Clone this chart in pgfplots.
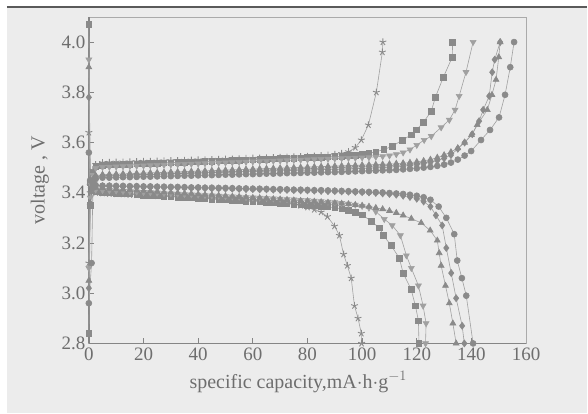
\documentclass[border=0pt]{standalone}
\usepackage{fontspec}
\setmainfont{Liberation Serif}
\usepackage{pgfplots}
\pgfplotsset{compat=1.18}
\definecolor{bgc}{HTML}{ECECEC}
\definecolor{dline}{HTML}{5A5A5A}
\definecolor{mk}{HTML}{8A8A8A}
\definecolor{ln}{HTML}{A0A0A0}
\definecolor{txt}{HTML}{6E6E6E}
\definecolor{ax}{HTML}{858585}
\pgfplotsset{
 ser/.style={color=ln, line width=0.6pt, mark options={draw=mk, fill=mk, solid}},
 sstar/.style={ser, mark=star, mark size=3.6pt, mark options={draw=mk, fill=mk, line width=0.9pt}},
 ssq/.style={ser, mark=square*, mark size=2.8pt},
 sdt/.style={ser, mark=triangle*, mark size=3.4pt, mark options={rotate=180}},
 sut/.style={ser, mark=triangle*, mark size=3.4pt},
 sdi/.style={ser, mark=diamond*, mark size=3.5pt},
 sci/.style={ser, mark=*, mark size=3.0pt},
}
\begin{document}
\begin{tikzpicture}
\fill[white] (0pt,0pt) rectangle (588pt,414pt);
\fill[bgc] (7pt,0pt) rectangle (588pt,406pt);
\draw[line width=2pt, dline] (7pt,406.5pt) -- (588pt,406.5pt);
\begin{axis}[
 at={(89pt,70pt)}, anchor=south west,
 scale only axis, width=438pt, height=327pt,
 xmin=0, xmax=160, ymin=2.8, ymax=4.1,
 xtick={0,20,...,160}, ytick={2.8,3.0,3.2,3.4,3.6,3.8,4.0},
 xtick pos=left, ytick pos=left, tick align=inside,
 major tick length=5pt,
 every tick/.style={ax, line width=0.8pt},
 yticklabel style={/pgf/number format/fixed, /pgf/number format/fixed zerofill, /pgf/number format/precision=1, xshift=0pt},
 /pgf/number format/assume math mode=true,
 tick label style={font=\fontsize{19}{22}\selectfont, text=txt},
 xticklabel style={yshift=-0.5pt},
 label style={font=\fontsize{20}{23}\selectfont, text=txt},
 xlabel={specific capacity,mA$\cdot$h$\cdot$g$^{-1}$},
 ylabel={voltage , V},
 xlabel style={at={(axis description cs:0.479,-0.075)}, anchor=north},
 ylabel style={at={(axis description cs:-0.112,0.5)}, anchor=center},
 axis line style={draw=ax!70, line width=0.7pt},
 clip=false,
]
\draw[ax, line width=1.6pt] (rel axis cs:0,0) -- (rel axis cs:1,0);
\draw[ax, line width=1.6pt] (rel axis cs:0,0) -- (rel axis cs:0,1);
% ---------- star ----------
\addplot[sstar] coordinates {(0,3.12)(0.5,3.40)(1.5,3.49)(2.5,3.512)(5,3.520)(7.5,3.521)(10,3.522)(12.5,3.522)(15,3.523)(17.5,3.524)(20,3.525)(22.5,3.525)(25,3.526)(27.5,3.527)(30,3.528)(32.5,3.528)(35,3.529)(37.5,3.530)(40,3.531)(42.5,3.531)(45,3.532)(47.5,3.533)(50,3.534)(52.5,3.534)(55,3.535)(57.5,3.536)(60,3.537)(62.5,3.537)(65,3.538)(67.5,3.539)(70,3.540)(72.5,3.541)(75,3.542)(77.5,3.543)(80,3.544)(82.5,3.545)(85,3.547)(87.5,3.549)(90,3.552)(92.5,3.556)(95,3.563)(97.5,3.580)(99.7,3.61)(102.3,3.67)(105.2,3.80)(107.4,3.96)(107.6,4.00)};
\addplot[sstar] coordinates {(0,3.64)(0.5,3.43)(1.5,3.405)(2.5,3.400)(5,3.398)(7.5,3.396)(10,3.395)(12.5,3.394)(15,3.392)(17.5,3.391)(20,3.390)(22.5,3.388)(25,3.387)(27.5,3.386)(30,3.384)(32.5,3.383)(35,3.382)(37.5,3.380)(40,3.379)(42.5,3.378)(45,3.376)(47.5,3.375)(50,3.374)(52.5,3.372)(55,3.371)(57.5,3.369)(60,3.368)(62.5,3.366)(65,3.364)(67.5,3.362)(70,3.360)(72.5,3.357)(75,3.354)(77.5,3.349)(80,3.342)(82.5,3.333)(85,3.323)(87.3,3.305)(89.9,3.267)(91.7,3.23)(93.2,3.155)(94.6,3.11)(96,3.06)(97.2,2.95)(98.5,2.90)(99.7,2.84)(99.8,2.80)};
% ---------- square ----------
\addplot[ssq] coordinates {(0,2.84)(0.5,3.35)(1.5,3.48)(2.5,3.505)(5,3.510)(7.5,3.511)(10,3.512)(12.5,3.513)(15,3.514)(17.5,3.515)(20,3.516)(22.5,3.517)(25,3.518)(27.5,3.519)(30,3.520)(32.5,3.521)(35,3.522)(37.5,3.523)(40,3.524)(42.5,3.525)(45,3.526)(47.5,3.527)(50,3.528)(52.5,3.529)(55,3.530)(57.5,3.531)(60,3.532)(62.5,3.533)(65,3.534)(67.5,3.535)(70,3.536)(72.5,3.537)(75,3.538)(77.5,3.539)(80,3.540)(82.5,3.541)(85,3.542)(87.5,3.543)(90,3.544)(92.5,3.546)(95,3.548)(97.5,3.550)(100,3.553)(102.5,3.557)(105,3.563)(108,3.572)(111,3.585)(114.8,3.61)(117.9,3.63)(119.8,3.65)(122.4,3.68)(125.3,3.725)(126.8,3.78)(129.7,3.86)(133,3.94)(133.1,4.00)};
\addplot[ssq] coordinates {(0,4.07)(0.5,3.44)(1.5,3.41)(2.5,3.405)(5,3.402)(7.5,3.400)(10,3.398)(12.5,3.396)(15,3.395)(17.5,3.393)(20,3.391)(22.5,3.390)(25,3.388)(27.5,3.386)(30,3.385)(32.5,3.383)(35,3.381)(37.5,3.380)(40,3.378)(42.5,3.377)(45,3.375)(47.5,3.373)(50,3.372)(52.5,3.370)(55,3.369)(57.5,3.367)(60,3.365)(62.5,3.364)(65,3.362)(67.5,3.360)(70,3.359)(72.5,3.357)(75,3.355)(77.5,3.353)(80,3.351)(82.5,3.349)(85,3.347)(87.5,3.344)(90,3.340)(92.5,3.336)(95,3.330)(97.5,3.322)(100,3.312)(103.3,3.287)(106.3,3.26)(107.8,3.23)(110.6,3.19)(113.6,3.14)(115,3.08)(117.9,3.016)(119.5,2.95)(120.6,2.89)(120.8,2.80)};
% ---------- down triangle ----------
\addplot[sdt] coordinates {(0,3.10)(0.5,3.38)(1.5,3.47)(2.5,3.498)(5,3.502)(7.5,3.503)(10,3.504)(12.5,3.505)(15,3.506)(17.5,3.507)(20,3.508)(22.5,3.509)(25,3.510)(27.5,3.511)(30,3.512)(32.5,3.513)(35,3.514)(37.5,3.515)(40,3.516)(42.5,3.517)(45,3.518)(47.5,3.519)(50,3.520)(52.5,3.521)(55,3.522)(57.5,3.523)(60,3.524)(62.5,3.525)(65,3.526)(67.5,3.527)(70,3.528)(72.5,3.529)(75,3.530)(77.5,3.531)(80,3.532)(82.5,3.533)(85,3.534)(87.5,3.535)(90,3.536)(92.5,3.537)(95,3.538)(97.5,3.539)(100,3.540)(102.5,3.541)(105,3.543)(107.5,3.545)(110,3.548)(112.5,3.553)(115,3.560)(117.5,3.572)(120,3.590)(122.7,3.61)(125.3,3.625)(128.9,3.66)(131.9,3.69)(134,3.73)(135.5,3.785)(138,3.88)(140.6,4.00)};
\addplot[sdt] coordinates {(0,3.93)(0.5,3.44)(1.5,3.42)(2.5,3.412)(5,3.410)(7.5,3.409)(10,3.408)(12.5,3.406)(15,3.405)(17.5,3.404)(20,3.402)(22.5,3.401)(25,3.400)(27.5,3.398)(30,3.397)(32.5,3.396)(35,3.394)(37.5,3.393)(40,3.392)(42.5,3.390)(45,3.389)(47.5,3.388)(50,3.386)(52.5,3.385)(55,3.384)(57.5,3.382)(60,3.381)(62.5,3.380)(65,3.378)(67.5,3.377)(70,3.376)(72.5,3.374)(75,3.373)(77.5,3.371)(80,3.370)(82.5,3.368)(85,3.366)(87.5,3.364)(90,3.362)(92.5,3.359)(95,3.356)(97.5,3.352)(100,3.347)(102.5,3.340)(105,3.325)(108.1,3.295)(111,3.27)(114,3.23)(116.2,3.15)(118,3.10)(120.6,3.03)(122.3,2.95)(123.4,2.88)(123.2,2.80)};
% ---------- up triangle ----------
\addplot[sut] coordinates {(0,3.05)(0.5,3.36)(1.5,3.45)(2.5,3.468)(5,3.472)(7.5,3.473)(10,3.474)(12.5,3.475)(15,3.476)(17.5,3.477)(20,3.478)(22.5,3.479)(25,3.480)(27.5,3.481)(30,3.482)(32.5,3.483)(35,3.484)(37.5,3.485)(40,3.486)(42.5,3.487)(45,3.488)(47.5,3.489)(50,3.490)(52.5,3.491)(55,3.492)(57.5,3.493)(60,3.494)(62.5,3.495)(65,3.496)(67.5,3.497)(70,3.498)(72.5,3.499)(75,3.500)(77.5,3.501)(80,3.502)(82.5,3.503)(85,3.504)(87.5,3.505)(90,3.506)(92.5,3.507)(95,3.508)(97.5,3.509)(100,3.510)(102.5,3.511)(105,3.512)(107.5,3.513)(110,3.514)(112.5,3.516)(115,3.518)(117.5,3.520)(120,3.523)(122.5,3.527)(125,3.532)(127.5,3.540)(130,3.550)(132.5,3.562)(135,3.578)(137.5,3.600)(140,3.630)(142.1,3.67)(145.8,3.73)(147.5,3.79)(149,3.85)(150,3.94)(150.5,4.00)};
\addplot[sut] coordinates {(0,3.90)(0.5,3.45)(1.5,3.425)(2.5,3.420)(5,3.418)(7.5,3.416)(10,3.414)(12.5,3.413)(15,3.411)(17.5,3.409)(20,3.408)(22.5,3.406)(25,3.404)(27.5,3.402)(30,3.401)(32.5,3.399)(35,3.397)(37.5,3.396)(40,3.394)(42.5,3.392)(45,3.391)(47.5,3.389)(50,3.387)(52.5,3.385)(55,3.384)(57.5,3.382)(60,3.380)(62.5,3.379)(65,3.377)(67.5,3.375)(70,3.374)(72.5,3.372)(75,3.370)(77.5,3.368)(80,3.367)(82.5,3.365)(85,3.363)(87.5,3.361)(90,3.359)(92.5,3.357)(95,3.355)(97.5,3.352)(100,3.349)(102.5,3.345)(105,3.340)(107.5,3.335)(110,3.328)(112.5,3.320)(115,3.310)(118,3.297)(121.6,3.28)(124.9,3.25)(127.5,3.21)(128.2,3.16)(128.9,3.11)(130.5,3.03)(131.9,2.96)(133.2,2.88)(134.4,2.80)};
% ---------- diamond ----------
\addplot[sdi] coordinates {(0,3.02)(0.5,3.35)(1.5,3.45)(2.5,3.465)(5,3.468)(7.5,3.469)(10,3.469)(12.5,3.470)(15,3.471)(17.5,3.472)(20,3.472)(22.5,3.473)(25,3.474)(27.5,3.475)(30,3.475)(32.5,3.476)(35,3.477)(37.5,3.478)(40,3.478)(42.5,3.479)(45,3.480)(47.5,3.481)(50,3.481)(52.5,3.482)(55,3.483)(57.5,3.484)(60,3.484)(62.5,3.485)(65,3.486)(67.5,3.487)(70,3.487)(72.5,3.488)(75,3.489)(77.5,3.490)(80,3.490)(82.5,3.491)(85,3.492)(87.5,3.493)(90,3.493)(92.5,3.494)(95,3.495)(97.5,3.496)(100,3.497)(102.5,3.498)(105,3.499)(107.5,3.500)(110,3.502)(112.5,3.504)(115,3.506)(117.5,3.509)(120,3.512)(122.5,3.516)(125,3.521)(127.5,3.528)(130,3.537)(132.5,3.550)(135,3.575)(137.5,3.600)(140.3,3.633)(142.8,3.685)(144.3,3.73)(146.5,3.785)(147.6,3.88)(148.5,3.93)(150.5,4.00)};
\addplot[sdi] coordinates {(0,3.78)(0.5,3.45)(1.5,3.432)(2.5,3.428)(5,3.426)(7.5,3.426)(10,3.425)(12.5,3.425)(15,3.424)(17.5,3.424)(20,3.423)(22.5,3.423)(25,3.422)(27.5,3.421)(30,3.421)(32.5,3.420)(35,3.420)(37.5,3.419)(40,3.419)(42.5,3.418)(45,3.417)(47.5,3.417)(50,3.416)(52.5,3.416)(55,3.415)(57.5,3.414)(60,3.414)(62.5,3.413)(65,3.413)(67.5,3.412)(70,3.411)(72.5,3.411)(75,3.410)(77.5,3.409)(80,3.409)(82.5,3.408)(85,3.407)(87.5,3.406)(90,3.406)(92.5,3.405)(95,3.404)(97.5,3.403)(100,3.402)(102.5,3.401)(105,3.399)(107.5,3.397)(110,3.395)(112.5,3.392)(115,3.388)(117.5,3.383)(120,3.376)(122.5,3.365)(125,3.345)(127,3.31)(129.3,3.27)(130.8,3.18)(132.6,3.08)(134.4,2.98)(136.6,2.87)(137.4,2.80)};
% ---------- circle ----------
\addplot[sci] coordinates {(0,2.96)(1,3.12)(1.5,3.42)(2.5,3.455)(5,3.460)(7.5,3.460)(10,3.461)(12.5,3.462)(15,3.462)(17.5,3.463)(20,3.464)(22.5,3.464)(25,3.465)(27.5,3.466)(30,3.466)(32.5,3.467)(35,3.468)(37.5,3.468)(40,3.469)(42.5,3.470)(45,3.470)(47.5,3.471)(50,3.472)(52.5,3.472)(55,3.473)(57.5,3.474)(60,3.474)(62.5,3.475)(65,3.476)(67.5,3.476)(70,3.477)(72.5,3.478)(75,3.478)(77.5,3.479)(80,3.480)(82.5,3.480)(85,3.481)(87.5,3.482)(90,3.482)(92.5,3.483)(95,3.484)(97.5,3.485)(100,3.486)(102.5,3.487)(105,3.488)(107.5,3.489)(110,3.490)(112.5,3.491)(115,3.493)(117.5,3.495)(120,3.497)(122.5,3.500)(125,3.503)(127.5,3.507)(130,3.512)(132.5,3.520)(135,3.532)(137.5,3.548)(139.9,3.566)(143.5,3.61)(146.8,3.65)(150.1,3.70)(152.3,3.79)(154.2,3.90)(155.6,4.00)};
\addplot[sci] coordinates {(0,3.56)(0.5,3.45)(1.5,3.435)(2.5,3.430)(5,3.428)(7.5,3.428)(10,3.427)(12.5,3.427)(15,3.426)(17.5,3.426)(20,3.425)(22.5,3.425)(25,3.424)(27.5,3.424)(30,3.423)(32.5,3.423)(35,3.422)(37.5,3.421)(40,3.421)(42.5,3.420)(45,3.420)(47.5,3.419)(50,3.419)(52.5,3.418)(55,3.417)(57.5,3.417)(60,3.416)(62.5,3.416)(65,3.415)(67.5,3.414)(70,3.414)(72.5,3.413)(75,3.412)(77.5,3.412)(80,3.411)(82.5,3.410)(85,3.410)(87.5,3.409)(90,3.408)(92.5,3.407)(95,3.406)(97.5,3.405)(100,3.404)(102.5,3.403)(105,3.402)(107.5,3.401)(110,3.399)(112.5,3.397)(115,3.395)(117.5,3.392)(120,3.388)(122.5,3.382)(125,3.372)(128,3.345)(130.8,3.30)(133.7,3.235)(134.8,3.13)(136.5,3.06)(138.1,2.99)(140.6,2.80)};
\end{axis}
\end{tikzpicture}
\end{document}
